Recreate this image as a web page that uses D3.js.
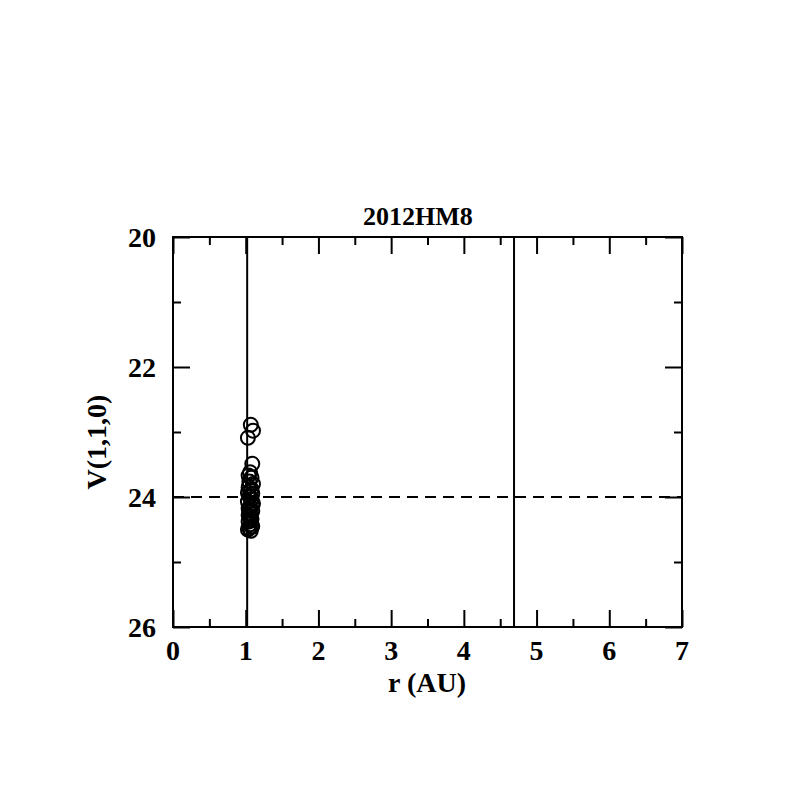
<!DOCTYPE html>
<html>
<head>
<meta charset="utf-8">
<script src="https://cdn.jsdelivr.net/npm/d3@7"></script>
<style>
  body { margin: 0; background: #fff; }
  text { font-family: "Liberation Serif", "DejaVu Serif", serif; font-weight: bold; fill: #000; }
</style>
</head>
<body>
<div id="chart"></div>
<script>
const title = "2012HM8";
const xLabel = "r (AU)";
const yLabel = "V(1,1,0)";

// observations: heliocentric distance and reduced magnitude
const rValues = [1.07, 1.10, 1.03, 1.09, 1.06, 1.08, 1.05, 1.10, 1.04, 1.07, 1.09, 1.05, 1.08, 1.03,
  1.10, 1.06, 1.04, 1.09, 1.07, 1.05, 1.08, 1.04, 1.06, 1.09, 1.05, 1.03, 1.07,
  1.04, 1.08, 1.06, 1.03, 1.09, 1.05, 1.07, 1.04, 1.08];
const vValues = [22.89, 22.98, 23.09, 23.49, 23.62, 23.70, 23.76, 23.80, 23.85, 23.90, 23.95, 23.99, 24.03, 24.07,
  24.10, 24.14, 24.18, 24.22, 24.26, 24.30, 24.34, 24.38, 24.42, 24.45, 24.48, 24.50, 24.52,
  23.67, 23.88, 24.00, 23.93, 24.12, 24.20, 24.36, 24.28, 24.46];

const xTicks = [0, 1, 2, 3, 4, 5, 6, 7];
const xMinor = [0.5, 1.5, 2.5, 3.5, 4.5, 5.5, 6.5];
const yTicks = [20, 22, 24, 26];
const yMinor = [21, 23, 25];

const verticalLines = [1.02, 4.69];   // perihelion / aphelion
const limitMag = 24;

const width = 797, height = 797;
const pLeft = 173, pRight = 682, pTop = 237, pBottom = 627;

const x = d3.scaleLinear().domain([0, 7]).range([pLeft, pRight]);
const y = d3.scaleLinear().domain([20, 26]).range([pTop, pBottom]);

const svg = d3.select("#chart").append("svg")
  .attr("width", width)
  .attr("height", height);

// reference lines
svg.selectAll(".vline")
  .data(verticalLines)
  .enter()
  .append("line")
  .attr("x1", d => x(d)).attr("x2", d => x(d))
  .attr("y1", pTop).attr("y2", pBottom)
  .attr("stroke", "#000").attr("stroke-width", 2);

svg.append("line")
  .attr("x1", pLeft).attr("x2", pRight)
  .attr("y1", y(limitMag)).attr("y2", y(limitMag))
  .attr("stroke", "#000").attr("stroke-width", 2)
  .attr("stroke-dasharray", "11,7");

// points
svg.selectAll(".pt")
  .data(rValues.map((r, i) => ({ r: r, v: vValues[i] })))
  .enter()
  .append("circle")
  .attr("cx", d => x(d.r))
  .attr("cy", d => y(d.v))
  .attr("r", 7)
  .attr("fill", "none")
  .attr("stroke", "#000")
  .attr("stroke-width", 2);

// inward ticks on all four sides
const majorLen = 17, minorLen = 8;

function ticks(axisFn, pos, vals, len) {
  svg.append("g")
    .attr("transform", pos)
    .call(axisFn().tickValues(vals).tickSize(-len).tickFormat(""));
}

[[() => d3.axisBottom(x), `translate(0,${pBottom})`],
 [() => d3.axisTop(x), `translate(0,${pTop})`]].forEach(([fn, pos]) => {
  ticks(fn, pos, xTicks, majorLen);
  ticks(fn, pos, xMinor, minorLen);
});

[[() => d3.axisLeft(y), `translate(${pLeft},0)`],
 [() => d3.axisRight(y), `translate(${pRight},0)`]].forEach(([fn, pos]) => {
  ticks(fn, pos, yTicks, majorLen);
  ticks(fn, pos, yMinor, minorLen);
});

svg.selectAll(".domain").remove();
svg.selectAll(".tick line").attr("stroke", "#000").attr("stroke-width", 2);

// frame
svg.append("rect")
  .attr("x", pLeft).attr("y", pTop)
  .attr("width", pRight - pLeft).attr("height", pBottom - pTop)
  .attr("fill", "none").attr("stroke", "#000").attr("stroke-width", 2);

// tick labels
svg.selectAll(".xl")
  .data(xTicks)
  .enter()
  .append("text")
  .attr("x", d => x(d))
  .attr("y", 660)
  .attr("text-anchor", "middle")
  .attr("font-size", 28)
  .text(d => d);

svg.selectAll(".yl")
  .data(yTicks)
  .enter()
  .append("text")
  .attr("x", 156)
  .attr("y", d => y(d) + 10)
  .attr("text-anchor", "end")
  .attr("font-size", 28)
  .text(d => d);

svg.append("text")
  .attr("x", 418)
  .attr("y", 225)
  .attr("text-anchor", "middle")
  .attr("font-size", 26)
  .text(title);

svg.append("text")
  .attr("x", 427)
  .attr("y", 692)
  .attr("text-anchor", "middle")
  .attr("font-size", 28)
  .text(xLabel);

svg.append("text")
  .attr("transform", `translate(106,442) rotate(-90)`)
  .attr("text-anchor", "middle")
  .attr("font-size", 28)
  .text(yLabel);
</script>
</body>
</html>
